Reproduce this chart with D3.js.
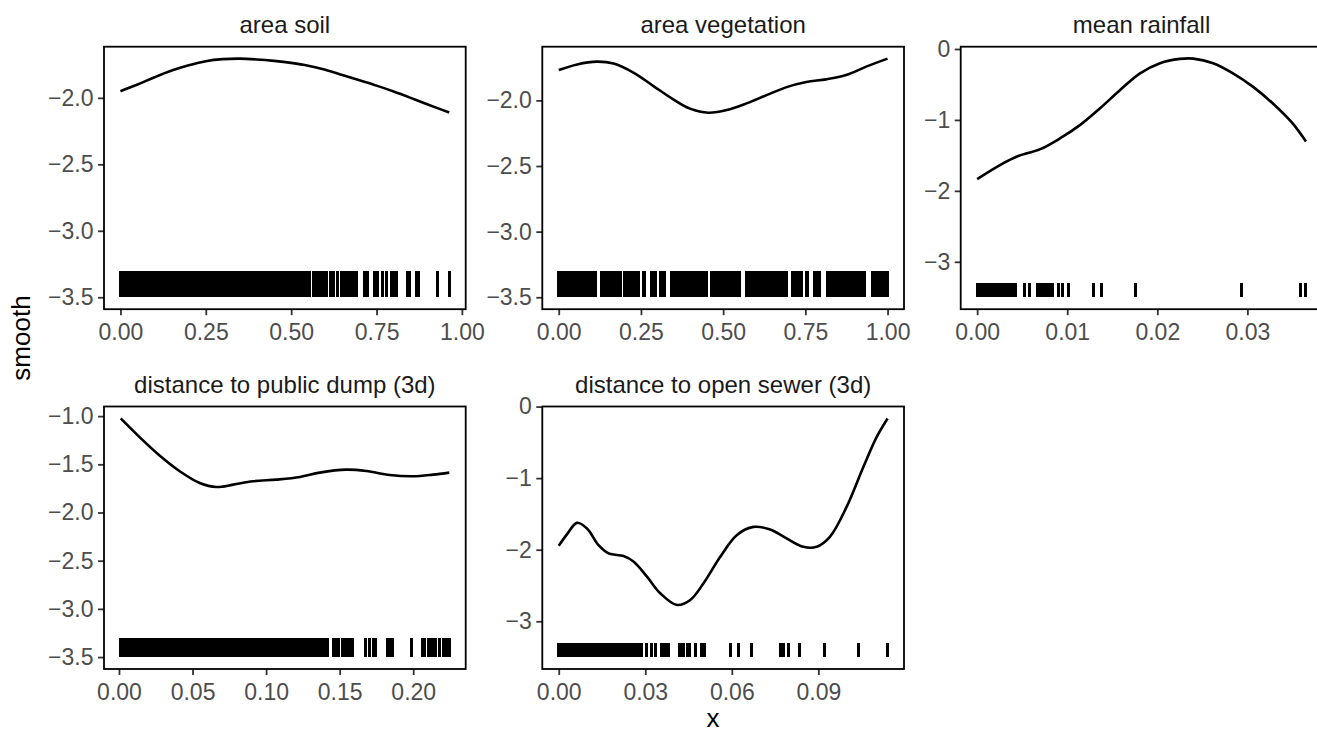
<!DOCTYPE html>
<html>
<head>
<meta charset="utf-8">
<script src="https://cdn.jsdelivr.net/npm/d3@7"></script>
<style>
  html, body { margin: 0; padding: 0; background: #fff; overflow: hidden; }
  svg { display: block; font-family: "Liberation Sans", Arial, Helvetica, sans-serif; }
</style>
</head>
<body>
<svg id="chart" width="1317" height="734"></svg>
<script>
// ---- smooth terms: panel titles ----
const panelTitles = [
  "area soil",
  "area vegetation",
  "mean rainfall",
  "distance to public dump (3d)",
  "distance to open sewer (3d)"
];

// ---- area soil ----
const soilX = [0, 0.05, 0.10, 0.15, 0.20, 0.25, 0.30, 0.35, 0.40, 0.45, 0.50, 0.55, 0.60, 0.65, 0.70, 0.75, 0.80, 0.85, 0.90, 0.963];
const soilY = [-1.95, -1.90, -1.845, -1.795, -1.755, -1.724, -1.709, -1.705, -1.711, -1.722, -1.737, -1.758, -1.789, -1.828, -1.868, -1.908, -1.952, -2.000, -2.050, -2.110];
const soilRug = [0.000, 0.006, 0.013, 0.020, 0.026, 0.033, 0.040, 0.047, 0.053, 0.060, 0.067, 0.074, 0.080, 0.087, 0.094, 0.101, 0.107, 0.114, 0.121, 0.128, 0.134, 0.141, 0.148, 0.155, 0.161, 0.168, 0.175, 0.182, 0.188, 0.195, 0.202, 0.209, 0.215, 0.222, 0.229, 0.236, 0.242, 0.249, 0.256, 0.263, 0.269, 0.276, 0.283, 0.290, 0.296, 0.303, 0.310, 0.317, 0.323, 0.330, 0.337, 0.344, 0.350, 0.357, 0.364, 0.371, 0.377, 0.384, 0.391, 0.398, 0.404, 0.411, 0.418, 0.425, 0.431, 0.438, 0.445, 0.452, 0.458, 0.465, 0.472, 0.479, 0.485, 0.492, 0.499, 0.506, 0.512, 0.519, 0.526, 0.533, 0.539, 0.546, 0.553,
  0.566, 0.573, 0.581, 0.588, 0.596, 0.603, 0.614, 0.624, 0.636, 0.646, 0.655, 0.662, 0.669, 0.677, 0.684, 0.692, 0.714, 0.725, 0.743, 0.754, 0.768, 0.780, 0.794, 0.802, 0.808, 0.842, 0.847, 0.866, 0.873, 0.928, 0.963];

// ---- area vegetation ----
const vegX = [0, 0.056, 0.116, 0.167, 0.227, 0.288, 0.348, 0.399, 0.455, 0.511, 0.571, 0.632, 0.693, 0.753, 0.813, 0.874, 0.935, 1.0];
const vegY = [-1.769, -1.726, -1.705, -1.720, -1.789, -1.891, -1.992, -2.063, -2.094, -2.074, -2.023, -1.960, -1.899, -1.860, -1.840, -1.807, -1.743, -1.682];
const vegRug = [0.000, 0.007, 0.015, 0.022, 0.030, 0.037, 0.045, 0.052, 0.060, 0.067, 0.075, 0.082, 0.090, 0.097, 0.105, 0.113,
  0.131, 0.138, 0.146, 0.153, 0.161, 0.168, 0.176, 0.183, 0.188,
  0.199, 0.206, 0.214, 0.221, 0.229, 0.236, 0.243,
  0.257, 0.261,
  0.281, 0.287, 0.293,
  0.308, 0.315, 0.321,
  0.343, 0.350, 0.358, 0.365, 0.373, 0.380, 0.388, 0.395, 0.403, 0.410, 0.418, 0.425, 0.433, 0.440, 0.446, 0.450,
  0.465, 0.472, 0.480, 0.487, 0.495, 0.502, 0.510, 0.517, 0.525, 0.532, 0.540, 0.547, 0.551,
  0.571, 0.578, 0.586, 0.593, 0.601, 0.608, 0.616, 0.623, 0.631, 0.638, 0.646, 0.653, 0.661, 0.668, 0.676, 0.683, 0.689, 0.692,
  0.712, 0.719, 0.727, 0.733, 0.737,
  0.755, 0.758,
  0.778, 0.785, 0.793,
  0.816, 0.823, 0.831, 0.838, 0.846, 0.853, 0.861, 0.868, 0.876, 0.883, 0.891, 0.898, 0.906, 0.913, 0.921, 0.929,
  0.955, 0.962, 0.970, 0.977, 0.985, 0.992, 1.000];

// ---- mean rainfall ----
const rainX = [0, 0.00258, 0.00443, 0.00701, 0.00923, 0.01144, 0.01365, 0.01587, 0.01808, 0.0203, 0.0225, 0.0240, 0.0262, 0.0284, 0.0306, 0.0328, 0.0350, 0.0365];
const rainY = [-1.834, -1.633, -1.516, -1.412, -1.258, -1.070, -0.835, -0.578, -0.343, -0.200, -0.140, -0.136, -0.200, -0.343, -0.531, -0.765, -1.046, -1.305];
const rainRug = [0.0000, 0.0003, 0.0005, 0.0008, 0.0011, 0.0013, 0.0016, 0.0019, 0.0021, 0.0025, 0.0028, 0.0031, 0.0034, 0.0037, 0.0040, 0.0043, 0.0053, 0.0058, 0.0067, 0.0070, 0.0073, 0.0076, 0.0079, 0.0081, 0.0084, 0.0090, 0.0095, 0.0101, 0.0129, 0.0138, 0.0176, 0.0293, 0.0359, 0.0365];

// ---- distance to public dump (3d) ----
const dumpX = [0.0012, 0.0138, 0.0274, 0.0413, 0.0549, 0.0662, 0.0776, 0.0911, 0.107, 0.123, 0.1365, 0.1546, 0.1682, 0.1841, 0.1999, 0.2135, 0.2245];
const dumpY = [-1.024, -1.215, -1.406, -1.572, -1.694, -1.736, -1.711, -1.676, -1.659, -1.632, -1.586, -1.555, -1.569, -1.611, -1.624, -1.607, -1.586];
const dumpRug = [0.0010, 0.0025, 0.0042, 0.0059, 0.0076, 0.0093, 0.0110, 0.0127, 0.0144, 0.0161, 0.0178, 0.0195, 0.0212, 0.0229, 0.0246, 0.0263, 0.0280, 0.0297, 0.0314, 0.0331, 0.0348, 0.0365, 0.0382, 0.0399, 0.0416, 0.0433, 0.0450, 0.0467, 0.0484, 0.0501, 0.0518, 0.0535, 0.0552, 0.0569, 0.0586, 0.0603, 0.0620, 0.0637, 0.0654, 0.0671, 0.0688, 0.0705, 0.0722, 0.0739, 0.0756, 0.0773, 0.0790, 0.0807, 0.0824, 0.0841, 0.0858, 0.0875, 0.0892, 0.0909, 0.0926, 0.0943, 0.0960, 0.0977, 0.0994, 0.1010,
  0.1032, 0.1049, 0.1066, 0.1083, 0.1100, 0.1117, 0.1134, 0.1151, 0.1168, 0.1185, 0.1202, 0.1219, 0.1236, 0.1253, 0.1270, 0.1287, 0.1304, 0.1321, 0.1338, 0.1355, 0.1372, 0.1389, 0.1406, 0.1420,
  0.1460, 0.1474, 0.1490, 0.1518, 0.1532, 0.1550, 0.1570, 0.1588, 0.1676, 0.1700, 0.1733, 0.1746, 0.1828, 0.1846, 0.1862, 0.1990, 0.2061, 0.2074, 0.2106, 0.2119, 0.2140, 0.2153, 0.2177, 0.2208, 0.2222, 0.2236, 0.2245];

// ---- distance to open sewer (3d) ----
const sewerX = [0, 0.0029, 0.0063, 0.0098, 0.0138, 0.0173, 0.0225, 0.0260, 0.0306, 0.0352, 0.0410, 0.0456, 0.0502, 0.0560, 0.0617, 0.0675, 0.0733, 0.0790, 0.0848, 0.0894, 0.0940, 0.0998, 0.1056, 0.1102, 0.1140];
const sewerY = [-1.946, -1.783, -1.625, -1.704, -1.936, -2.052, -2.089, -2.168, -2.377, -2.609, -2.772, -2.702, -2.469, -2.099, -1.797, -1.681, -1.718, -1.843, -1.960, -1.960, -1.820, -1.402, -0.845, -0.427, -0.166];
const sewerRug = [0.0000, 0.0009, 0.0018, 0.0027, 0.0036, 0.0045, 0.0054, 0.0063, 0.0072, 0.0081, 0.0090, 0.0099, 0.0108, 0.0117, 0.0126, 0.0135, 0.0144, 0.0153, 0.0162, 0.0171, 0.0180, 0.0189, 0.0198, 0.0207, 0.0216, 0.0225, 0.0232,
  0.0241, 0.0250, 0.0259, 0.0266, 0.0277, 0.0287, 0.0304, 0.0321, 0.0336, 0.0356, 0.0363, 0.0370, 0.0381, 0.0417, 0.0424, 0.0431, 0.0448, 0.0455, 0.0474, 0.0494, 0.0505, 0.0594, 0.0623, 0.0669, 0.0770, 0.0778, 0.0796, 0.0834, 0.0920, 0.1038, 0.1140];

// ---- rug band (in smooth units) ----
const rugBand = [-3.5, -3.3];

// ---- tick values and labels ----
const unitXTicks = [0, 0.25, 0.5, 0.75, 1.0];
const unitXLabels = ["0.00", "0.25", "0.50", "0.75", "1.00"];
const rainXTicks = [0, 0.01, 0.02, 0.03];
const rainXLabels = ["0.00", "0.01", "0.02", "0.03"];
const dumpXTicks = [0, 0.05, 0.10, 0.15, 0.20];
const dumpXLabels = ["0.00", "0.05", "0.10", "0.15", "0.20"];
const sewerXTicks = [0, 0.03, 0.06, 0.09];
const sewerXLabels = ["0.00", "0.03", "0.06", "0.09"];

const halfYTicks = [-3.5, -3.0, -2.5, -2.0];
const halfYLabels = ["\u22123.5", "\u22123.0", "\u22122.5", "\u22122.0"];
const intYTicks = [-3, -2, -1, 0];
const intYLabels = ["\u22123", "\u22122", "\u22121", "0"];
const dumpYTicks = [-3.5, -3.0, -2.5, -2.0, -1.5, -1.0];
const dumpYLabels = ["\u22123.5", "\u22123.0", "\u22122.5", "\u22122.0", "\u22121.5", "\u22121.0"];

// ---- assemble panels ----
const panels = [
  { title: panelTitles[0], cx: soilX, cy: soilY, rug: soilRug, xt: unitXTicks, xl: unitXLabels, yt: halfYTicks, yl: halfYLabels },
  { title: panelTitles[1], cx: vegX, cy: vegY, rug: vegRug, xt: unitXTicks, xl: unitXLabels, yt: halfYTicks, yl: halfYLabels },
  { title: panelTitles[2], cx: rainX, cy: rainY, rug: rainRug, xt: rainXTicks, xl: rainXLabels, yt: intYTicks, yl: intYLabels },
  { title: panelTitles[3], cx: dumpX, cy: dumpY, rug: dumpRug, xt: dumpXTicks, xl: dumpXLabels, yt: dumpYTicks, yl: dumpYLabels },
  { title: panelTitles[4], cx: sewerX, cy: sewerY, rug: sewerRug, xt: sewerXTicks, xl: sewerXLabels, yt: intYTicks, yl: intYLabels }
];

// ---- layout ----
const colLeft = [104, 542.3, 960.7];
const rowTop = [46.7, 406.5];
const panelW = 361.7;
const panelH = 262.5;
const tickFont = 23;
const stripFont = 24;
const titleFont = 26;

const svg = d3.select("#chart");

function expand(ext) {
  const pad = (ext[1] - ext[0]) * 0.05;
  return [ext[0] - pad, ext[1] + pad];
}

panels.forEach((p, i) => {
  const left = colLeft[i % 3];
  const top = rowTop[Math.floor(i / 3)];
  const g = svg.append("g").attr("transform", `translate(${left},${top})`);

  const xExt = d3.extent(p.cx.concat(p.rug));
  const yExt = d3.extent(p.cy.concat(rugBand));
  const x = d3.scaleLinear().domain(expand(xExt)).range([0, panelW]);
  const y = d3.scaleLinear().domain(expand(yExt)).range([panelH, 0]);

  // rug marks
  g.append("g").attr("shape-rendering", "crispEdges")
    .selectAll("line").data(p.rug).join("line")
    .attr("x1", d => x(d)).attr("x2", d => x(d))
    .attr("y1", y(rugBand[0])).attr("y2", y(rugBand[1]))
    .attr("stroke", "#000").attr("stroke-width", 3);

  // smooth curve
  const pts = p.cx.map((v, k) => [v, p.cy[k]]);
  g.append("path").datum(pts)
    .attr("fill", "none").attr("stroke", "#000").attr("stroke-width", 2.6)
    .attr("stroke-linejoin", "round").attr("stroke-linecap", "butt")
    .attr("d", d3.line().x(d => x(d[0])).y(d => y(d[1])).curve(d3.curveCatmullRom.alpha(0.5)));

  // axes
  const xa = g.append("g").attr("transform", `translate(0,${panelH})`)
    .call(d3.axisBottom(x).tickValues(p.xt).tickFormat((d, k) => p.xl[k]).tickSize(6).tickPadding(8.5));
  const ya = g.append("g")
    .call(d3.axisLeft(y).tickValues(p.yt).tickFormat((d, k) => p.yl[k]).tickSize(6).tickPadding(4.5));
  [xa, ya].forEach(a => {
    a.select(".domain").remove();
    a.selectAll(".tick line").attr("stroke", "#333").attr("stroke-width", 1.8);
    a.selectAll(".tick text").attr("fill", "#4d4d4d").attr("font-size", tickFont)
      .attr("font-family", "'Liberation Sans', Arial, sans-serif");
  });

  // panel border
  g.append("rect").attr("x", 0).attr("y", 0).attr("width", panelW).attr("height", panelH)
    .attr("fill", "none").attr("stroke", "#000").attr("stroke-width", 1.8);

  // strip title
  g.append("text").attr("x", panelW / 2).attr("y", -14)
    .attr("text-anchor", "middle").attr("font-size", stripFont).attr("fill", "#1a1a1a")
    .text(p.title);
});

// axis titles
svg.append("text")
  .attr("transform", "translate(30,338) rotate(-90)")
  .attr("text-anchor", "middle").attr("font-size", titleFont).attr("fill", "#000")
  .text("smooth");
svg.append("text")
  .attr("x", 713).attr("y", 727)
  .attr("text-anchor", "middle").attr("font-size", titleFont).attr("fill", "#000")
  .text("x");
</script>
</body>
</html>
